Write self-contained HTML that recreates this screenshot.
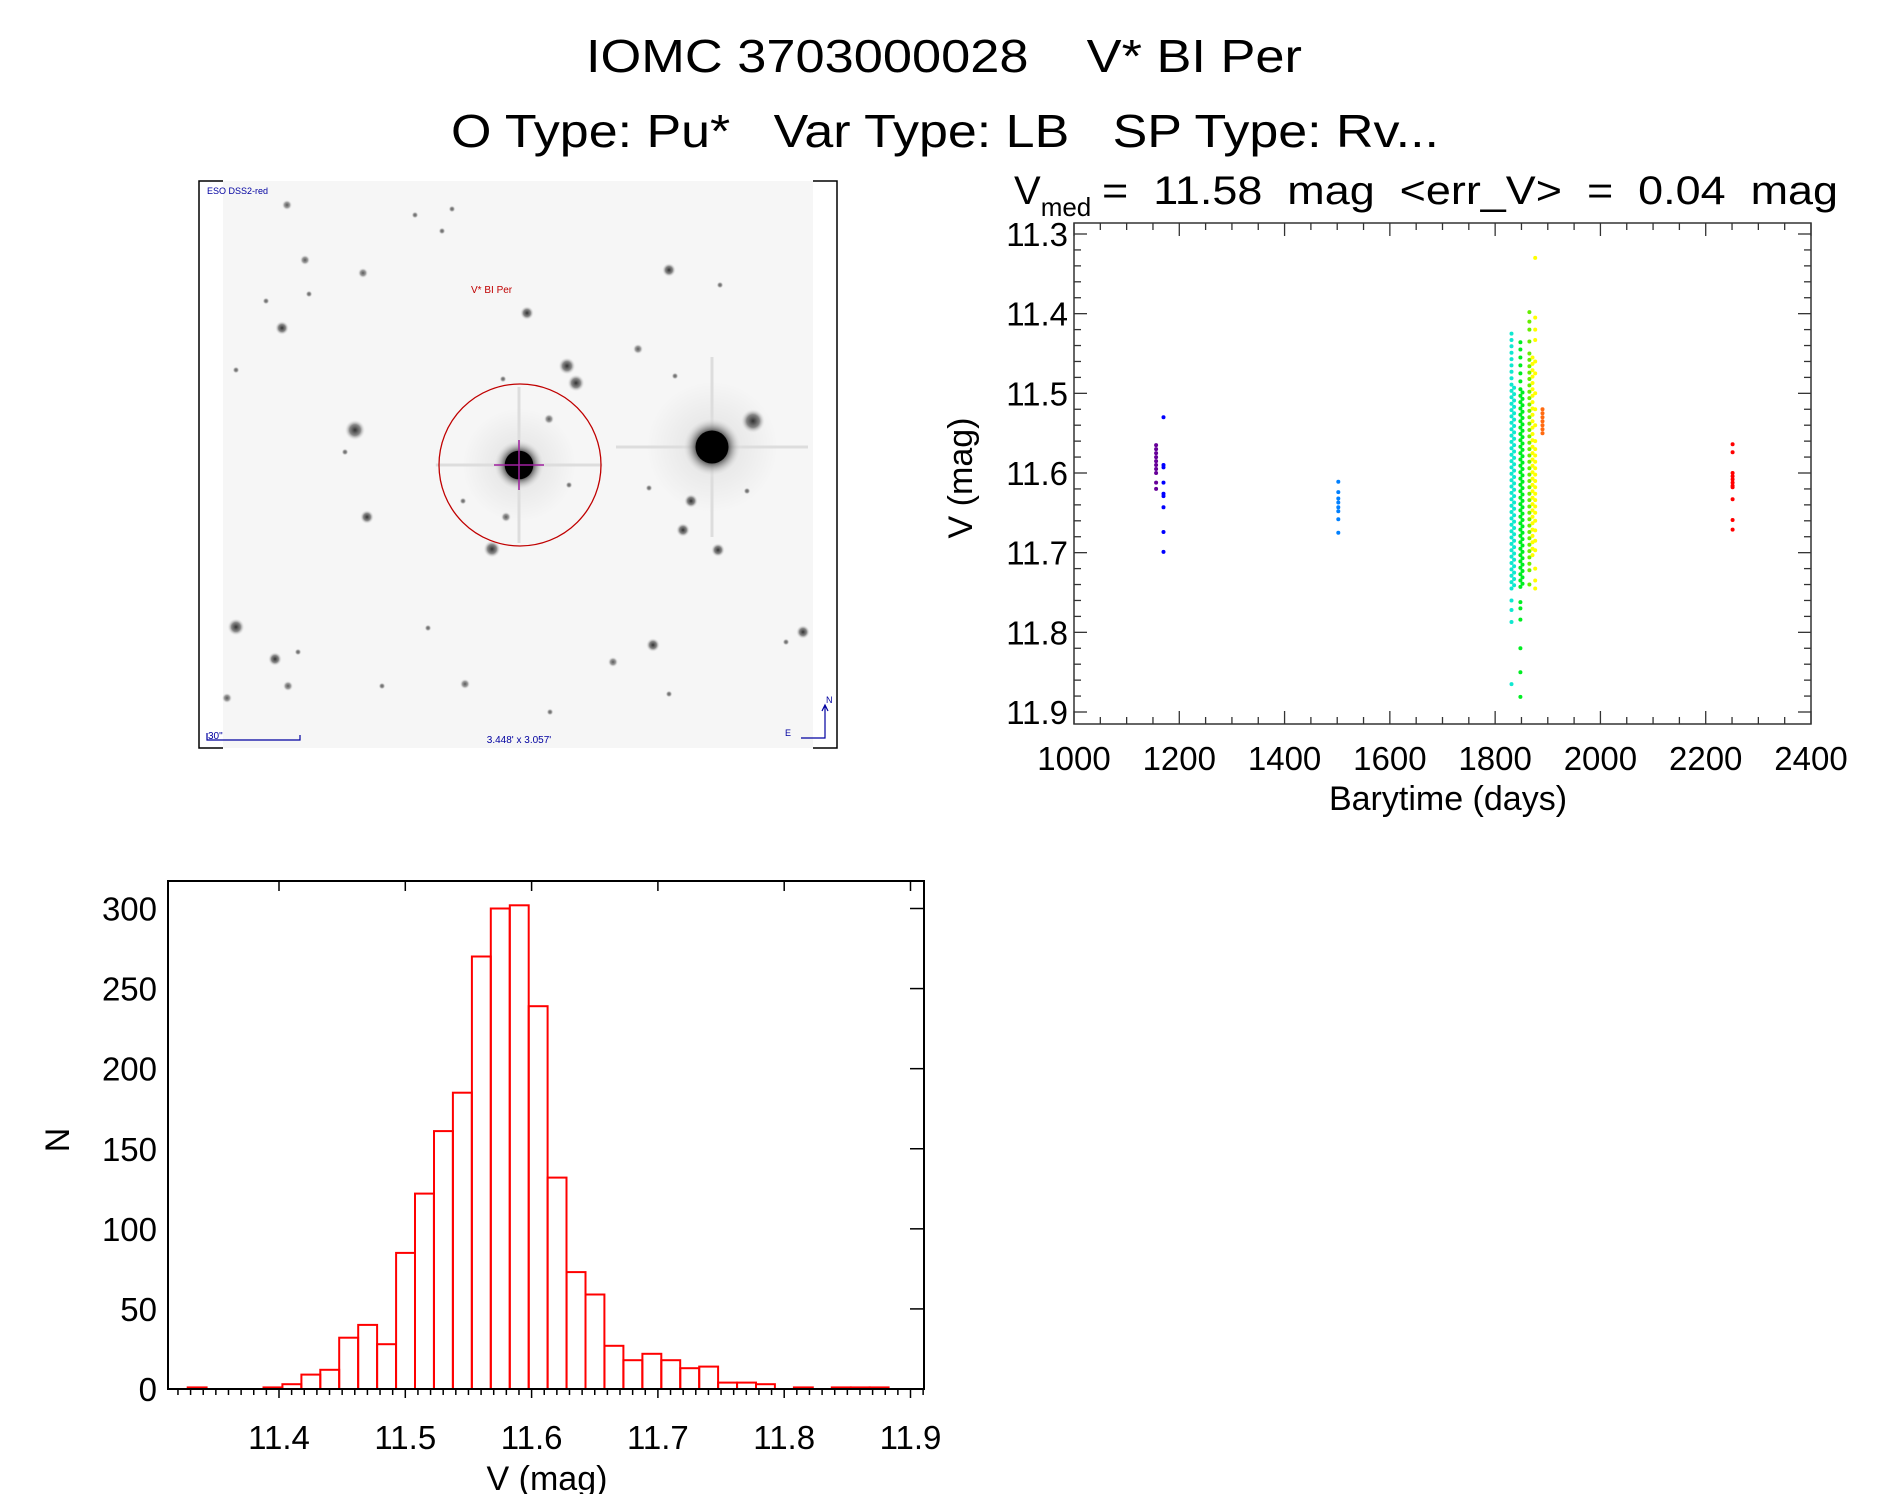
<!DOCTYPE html>
<html><head><meta charset="utf-8"><style>
html,body{margin:0;padding:0;background:#fff;}
svg{display:block;font-family:"Liberation Sans",sans-serif;}
text{white-space:pre;}
</style></head><body>
<svg id="root" width="1889" height="1494" viewBox="0 0 1889 1494" xml:space="preserve">
<rect x="0" y="0" width="1889" height="1494" fill="#fff"/>
<defs>
<radialGradient id="sg"><stop offset="0" stop-color="#000"/><stop offset="0.45" stop-color="#222"/><stop offset="1" stop-color="#fff" stop-opacity="0"/></radialGradient>
<radialGradient id="sgs"><stop offset="0" stop-color="#333"/><stop offset="0.5" stop-color="#888"/><stop offset="1" stop-color="#fff" stop-opacity="0"/></radialGradient>
<radialGradient id="halo"><stop offset="0" stop-color="#000" stop-opacity="0.35"/><stop offset="1" stop-color="#000" stop-opacity="0"/></radialGradient>
</defs>
<text x="944" y="72" font-size="46" text-anchor="middle" textLength="716" lengthAdjust="spacingAndGlyphs">IOMC 3703000028    V* BI Per</text>
<text x="945" y="147" font-size="46" text-anchor="middle" textLength="988" lengthAdjust="spacingAndGlyphs">O Type: Pu*   Var Type: LB   SP Type: Rv...</text>

<g id="sky"></g>
<g id="scatter"></g>
<g id="hist"></g>
</svg>
<script>
const NS="http://www.w3.org/2000/svg";
function mk(parent,tag,attrs,txt){const e=document.createElementNS(NS,tag);for(const k in attrs)e.setAttribute(k,attrs[k]);if(txt!==undefined)e.textContent=txt;parent.appendChild(e);return e;}

// ---------- Histogram data ----------
const histStart=11.3277;
const histBinWidth=0.015;
const histCounts=[1,0,0,0,1,3,9,12,32,40,28,85,122,161,185,270,300,302,239,132,73,59,27,18,22,18,13,14,4,4,3,0,1,0,1,1,1];
const histXTicks=[11.4,11.5,11.6,11.7,11.8,11.9];
const histYTicks=[0,50,100,150,200,250,300];

// ---------- Light curve data ----------
const lcGroupNames=['purple','blue','lightblue','cyan-a','cyan-b','green-a','green-b','lime','yellow-a','yellow-b','orange','red'];
const lcGroupColors=['#660099','#0000ff','#0080ff','#10e8d0','#10e8d0','#00ee22','#00ee22','#66ee00','#ffff00','#ffff00','#ff6a10','#ff0000'];
const lcGroupTimes=[1156,1170,1502,1831,1836,1848,1852,1865,1871,1876,1890,2251];
const lcPurple=[11.565,11.57,11.575,11.58,11.585,11.59,11.595,11.6,11.612,11.62];
const lcBlue=[11.53,11.59,11.593,11.612,11.626,11.629,11.643,11.674,11.699];
const lcLightBlue=[11.611,11.624,11.632,11.637,11.643,11.648,11.658,11.675];
const lcCyanA=[11.425,11.433,11.441,11.449,11.457,11.465,11.473,11.481,11.489,11.497,11.505,11.513,11.521,11.529,11.537,11.545,11.553,11.561,11.569,11.577,11.585,11.593,11.601,11.609,11.617,11.625,11.633,11.641,11.649,11.657,11.665,11.673,11.681,11.689,11.697,11.705,11.713,11.721,11.729,11.737,11.745,11.76,11.772,11.787,11.865];
const lcCyanB=[11.493,11.501,11.509,11.517,11.525,11.533,11.541,11.549,11.557,11.565,11.573,11.581,11.589,11.597,11.605,11.613,11.621,11.629,11.637,11.645,11.653,11.661,11.669,11.677,11.685,11.693,11.701,11.709,11.717,11.725,11.733,11.741];
const lcGreenA=[11.436,11.445,11.455,11.465,11.475,11.485,11.495,11.503,11.511,11.519,11.527,11.535,11.543,11.551,11.559,11.567,11.575,11.583,11.591,11.599,11.607,11.615,11.623,11.631,11.639,11.647,11.655,11.663,11.671,11.679,11.687,11.695,11.703,11.711,11.719,11.727,11.735,11.743,11.762,11.77,11.784,11.82,11.85,11.881];
const lcGreenB=[11.499,11.507,11.515,11.523,11.531,11.539,11.547,11.555,11.563,11.571,11.579,11.587,11.595,11.603,11.611,11.619,11.627,11.635,11.643,11.651,11.659,11.667,11.675,11.683,11.691,11.699,11.707,11.715,11.723,11.731,11.739];
const lcLime=[11.398,11.41,11.42,11.435,11.45,11.458,11.466,11.474,11.482,11.49,11.498,11.506,11.514,11.522,11.53,11.538,11.546,11.554,11.562,11.57,11.578,11.586,11.594,11.602,11.61,11.618,11.626,11.634,11.642,11.65,11.658,11.666,11.674,11.682,11.69,11.698,11.706,11.714,11.722,11.74];
const lcYellowA=[11.455,11.463,11.471,11.479,11.487,11.495,11.503,11.511,11.519,11.527,11.535,11.543,11.551,11.559,11.567,11.575,11.583,11.591,11.599,11.607,11.615,11.623,11.631,11.639,11.647,11.655,11.663,11.671,11.679,11.687,11.695,11.703];
const lcYellowB=[11.33,11.405,11.42,11.433,11.46,11.475,11.5,11.52,11.54,11.56,11.57,11.578,11.586,11.594,11.602,11.61,11.618,11.626,11.634,11.642,11.65,11.66,11.672,11.685,11.697,11.72,11.735,11.745];
const lcOrange=[11.52,11.525,11.53,11.535,11.54,11.545,11.55];
const lcRed=[11.564,11.574,11.6,11.604,11.608,11.612,11.616,11.618,11.633,11.659,11.671];
const lcXTicks=[1000,1200,1400,1600,1800,2000,2200,2400];
const lcYTicks=[11.3,11.4,11.5,11.6,11.7,11.8,11.9];

// ---------- Sky image ----------
const sky=document.getElementById('sky');
mk(sky,'rect',{x:223,y:181,width:590,height:567,fill:'#f6f6f6'});
const stars=[[287,205,3],[415,215,2],[452,209,2],[442,231,2],[305,260,3],[363,273,3],[266,301,2],[309,294,2],[669,270,4],[720,285,2],[527,313,4],[282,328,4],[236,370,2],[638,349,3],[567,366,5],[576,383,5],[503,379,2],[675,376,2],[549,419,3],[355,430,6],[345,452,2],[753,421,7],[569,485,2],[649,488,2],[691,501,4],[747,491,2],[367,517,4],[463,501,2],[506,517,3],[492,549,5],[683,530,4],[718,550,4],[236,627,5],[803,632,4],[786,642,2],[653,645,4],[428,628,2],[275,659,4],[298,652,2],[613,662,3],[288,686,3],[465,684,3],[227,698,3],[669,694,2],[550,712,2],[382,686,2]];
for(const s of stars){
  const c=mk(sky,'circle',{cx:s[0],cy:s[1],r:s[2]*1.8,fill:'url(#sgs)','fill-opacity':s[2]>=4?1:0.8});
  
  
}
// bright stars with faint spikes
for(const b of [[519,465,26],[712,447,30]]){
  mk(sky,'circle',{cx:b[0],cy:b[1],r:b[2]*2.2,fill:'url(#halo)','fill-opacity':0.25});
  mk(sky,'line',{x1:b[0]-b[2]*3.2,y1:b[1],x2:b[0]+b[2]*3.2,y2:b[1],stroke:'#ddd','stroke-width':3});
  mk(sky,'line',{x1:b[0],y1:b[1]-b[2]*3,x2:b[0],y2:b[1]+b[2]*3,stroke:'#ddd','stroke-width':3});
  mk(sky,'circle',{cx:b[0],cy:b[1],r:b[2],fill:'url(#sg)'});
  mk(sky,'circle',{cx:b[0],cy:b[1],r:b[2]*0.55,fill:'#000'});
}
mk(sky,'line',{x1:494,y1:465,x2:544,y2:465,stroke:'#a020a0','stroke-width':1.5});
mk(sky,'line',{x1:519,y1:440,x2:519,y2:490,stroke:'#a020a0','stroke-width':1.5});
const circ=mk(sky,'ellipse',{cx:520,cy:465,rx:81,ry:81,fill:'none',stroke:'#c00000','stroke-width':1.3});


mk(sky,'text',{x:471,y:293,'font-size':10,fill:'#c00000'},'V* BI Per');
mk(sky,'text',{x:207,y:194,'font-size':9,fill:'#0000a0'},'ESO DSS2-red');
mk(sky,'text',{x:208,y:739,'font-size':10,fill:'#0000a0'},'30"');
mk(sky,'path',{d:'M207,733 V740 H300 V735',fill:'none',stroke:'#0000a0','stroke-width':1.2});
mk(sky,'text',{x:519,y:743,'font-size':10,fill:'#0000a0','text-anchor':'middle'},'3.448\' x 3.057\'');
mk(sky,'path',{d:'M801,738 H825 V706 M822,711 L825,705 L828,711',fill:'none',stroke:'#0000a0','stroke-width':1.2});
mk(sky,'text',{x:826,y:703,'font-size':9,fill:'#0000a0'},'N');
mk(sky,'text',{x:785,y:736,'font-size':9,fill:'#0000a0'},'E');
mk(sky,'path',{d:'M223,181 H199 V748 H223 M813,181 H837 V748 H813',fill:'none',stroke:'#000','stroke-width':1.5});

// ---------- Light curve ----------
const sc=document.getElementById('scatter');
const L={l:1074,r:1811,t:223,b:724};
const lx=t=>L.l+(t-1000)/1400*(L.r-L.l);
const ly=v=>234+(v-11.3)/0.6*(712-234);
const groups=[lcPurple,lcBlue,lcLightBlue,lcCyanA,lcCyanB,lcGreenA,lcGreenB,lcLime,lcYellowA,lcYellowB,lcOrange,lcRed];
groups.forEach((g,i)=>{
  const gg=mk(sc,'g',{fill:lcGroupColors[i]});
  
  
  for(const v of g){
    const p=mk(gg,'circle',{cx:lx(lcGroupTimes[i]).toFixed(1),cy:ly(v).toFixed(1),r:2});
    
    
  }
});
mk(sc,'rect',{x:L.l,y:L.t,width:L.r-L.l,height:L.b-L.t,fill:'none',stroke:'#333','stroke-width':1.5});
for(let t=1000;t<=2400;t+=50){
  const x=lx(t),len=(t%200===0)?13:7;
  mk(sc,'line',{x1:x,y1:L.b,x2:x,y2:L.b-len,stroke:'#333','stroke-width':1.3});
  mk(sc,'line',{x1:x,y1:L.t,x2:x,y2:L.t+len,stroke:'#333','stroke-width':1.3});
}
for(let k=-1;k<=31;k++){
  const v=11.3+k*0.02,y=ly(v);if(y<L.t||y>L.b)continue;
  const len=(k%5===0)?13:7;
  mk(sc,'line',{x1:L.l,y1:y,x2:L.l+len,y2:y,stroke:'#333','stroke-width':1.3});
  mk(sc,'line',{x1:L.r,y1:y,x2:L.r-len,y2:y,stroke:'#333','stroke-width':1.3});
}
for(const t of lcXTicks){
  const e=mk(sc,'text',{x:lx(t),y:770,'font-size':33,'text-anchor':'middle'},String(t));
  
  
}
for(const v of lcYTicks){
  const e=mk(sc,'text',{x:1068,y:ly(v)+12,'font-size':33,'text-anchor':'end'},v.toFixed(1));
  
  
}
const xt=mk(sc,'text',{x:1448,y:810,'font-size':34,'text-anchor':'middle'},'Barytime (days)');

const yt=mk(sc,'text',{x:0,y:0,'font-size':34,'text-anchor':'middle',transform:'translate(972,478) rotate(-90)'},'V (mag)');

const st=mk(sc,'text',{x:1014,y:204,'font-size':40},'');

mk(st,'tspan',{},'V');
mk(st,'tspan',{'font-size':26,dy:12},'med');
mk(st,'tspan',{x:1102,dy:-12,textLength:736,lengthAdjust:'spacingAndGlyphs'},'=  11.58  mag  <err_V>  =  0.04  mag');

// ---------- Histogram ----------
const hg=document.getElementById('hist');
const H={l:168,r:924,t:881,b:1389};
const hx=v=>279+(v-11.4)/0.1*126.3;
const hy=n=>1389-n/300*(1389-908.5);
histCounts.forEach((c,i)=>{
  const x0=hx(histStart+i*histBinWidth),x1=hx(histStart+(i+1)*histBinWidth);
  const r=mk(hg,'rect',{x:x0.toFixed(1),y:hy(c).toFixed(1),width:(x1-x0).toFixed(1),height:(H.b-hy(c)).toFixed(1),fill:'none',stroke:'#ff0000','stroke-width':2});
  
  
});
mk(hg,'rect',{x:H.l,y:H.t,width:H.r-H.l,height:H.b-H.t,fill:'none',stroke:'#000','stroke-width':2});
for(let k=-8;k<=51;k++){
  const v=11.4+k*0.01,x=hx(v);if(x<H.l+2||x>H.r)continue;
  const major=(k%10===0);
  mk(hg,'line',{x1:x,y1:H.b,x2:x,y2:H.b+(major?9:6),stroke:'#000','stroke-width':1.5});
  if(major)mk(hg,'line',{x1:x,y1:H.t,x2:x,y2:H.t+10,stroke:'#000','stroke-width':1.5});
}
for(const n of histYTicks){
  mk(hg,'line',{x1:H.r,y1:hy(n),x2:H.r-14,y2:hy(n),stroke:'#000','stroke-width':1.5});
  const e=mk(hg,'text',{x:157,y:hy(n)+12,'font-size':33,'text-anchor':'end'},String(n));
  
  
}
for(const v of histXTicks){
  const e=mk(hg,'text',{x:hx(v),y:1449,'font-size':33,'text-anchor':'middle'},v.toFixed(1));
  
  
}
const hxt=mk(hg,'text',{x:547,y:1490,'font-size':34,'text-anchor':'middle'},'V (mag)');

const hyt=mk(hg,'text',{x:0,y:0,'font-size':34,'text-anchor':'middle',transform:'translate(69,1140) rotate(-90)'},'N');

</script>
</body></html>
